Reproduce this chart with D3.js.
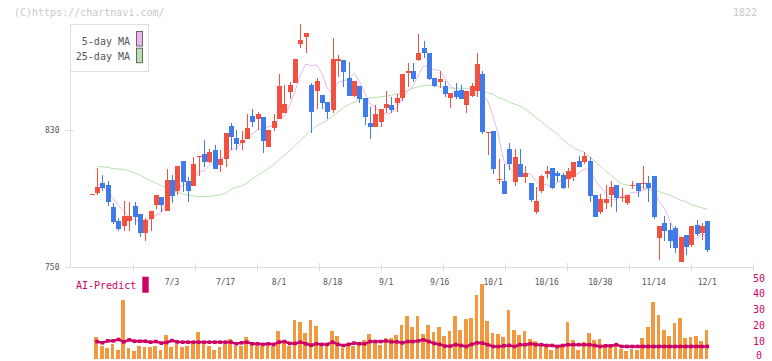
<!DOCTYPE html>
<html><head><meta charset="utf-8">
<script src="https://cdn.jsdelivr.net/npm/d3@7"></script>
<style>body{margin:0;background:#fff}svg{display:block}text{font-family:"DejaVu Sans Mono",monospace}</style>
</head><body><svg id="c" width="772" height="361"></svg>
<script>
const dates = ["6/12","6/13","6/16","6/17","6/18","6/19","6/20","6/23","6/24","6/25","6/26","6/27","6/30","7/1","7/2","7/3","7/4","7/7","7/8","7/9","7/10","7/11","7/14","7/15","7/16","7/17","7/18","7/22","7/23","7/24","7/25","7/28","7/29","7/30","7/31","8/1","8/4","8/5","8/6","8/7","8/8","8/12","8/13","8/14","8/15","8/18","8/19","8/20","8/21","8/22","8/25","8/26","8/27","8/28","8/29","9/1","9/2","9/3","9/4","9/5","9/8","9/9","9/10","9/11","9/12","9/16","9/17","9/18","9/19","9/22","9/24","9/25","9/26","9/29","9/30","10/1","10/2","10/3","10/6","10/7","10/8","10/9","10/10","10/14","10/15","10/16","10/17","10/20","10/21","10/22","10/23","10/24","10/27","10/28","10/29","10/30","10/31","11/4","11/5","11/6","11/7","11/10","11/11","11/12","11/13","11/14","11/17","11/18","11/19","11/20","11/21","11/25","11/26","11/27","11/28","12/1"];

const openPrices = [792.6,793.4,798.9,797.9,785.0,776.9,774.1,777.0,785.6,781.0,
 770.0,778.0,786.2,790.9,782.7,800.8,794.4,811.9,800.2,797.5,
 814.2,816.0,811.5,818.3,809.6,812.9,832.3,825.3,822.6,824.9,
 838.2,836.3,837.4,819.9,831.0,836.3,840.1,852.4,857.3,880.2,
 884.5,856.3,853.0,850.4,846.4,841.7,870.5,870.9,860.2,849.9,
 855.9,848.5,834.1,831.9,834.9,842.9,844.6,846.0,848.9,863.5,
 864.5,870.9,877.9,875.0,860.2,858.2,855.9,848.7,852.8,853.4,
 844.6,849.9,853.0,862.7,828.9,829.4,801.5,800.2,818.7,799.8,
 810.2,802.7,799.1,782.1,794.6,804.3,807.8,804.7,803.7,801.6,
 802.7,811.9,811.3,811.9,792.0,782.1,787.6,792.0,797.9,790.3,
 787.6,797.8,799.1,799.0,799.1,803.1,767.1,775.7,771.6,772.8,
 753.1,768.7,762.8,774.5,769.7,776.9];

const highPrices = [792.7,807.8,803.7,800.0,787.6,778.4,788.4,788.1,788.0,781.0,
 778.6,782.7,792.0,790.9,807.2,803.7,809.0,811.9,802.7,814.4,
 814.8,824.2,818.7,821.2,818.3,828.4,833.9,830.0,829.4,839.2,
 842.3,840.3,837.4,830.0,839.2,862.5,856.3,857.9,871.5,891.9,
 886.7,857.6,860.2,850.4,846.4,883.9,873.8,870.9,869.9,858.6,
 855.9,848.5,843.3,844.6,842.3,853.0,849.1,851.0,862.7,869.0,
 869.0,886.1,882.2,875.0,860.2,864.5,858.6,851.4,857.3,856.3,
 852.8,857.3,875.0,864.5,829.0,829.4,812.9,810.2,822.6,818.9,
 818.9,809.0,799.1,796.9,803.7,809.0,807.8,806.1,805.1,807.8,
 811.3,814.8,817.2,814.4,792.0,792.6,797.9,800.2,797.9,796.1,
 792.0,800.2,799.1,809.0,803.1,803.1,773.9,779.8,775.7,773.9,
 767.5,768.7,773.9,777.4,775.7,776.9];

const lowPrices = [792.6,792.0,794.6,785.6,775.1,771.2,771.2,771.2,774.4,767.3,
 765.4,771.2,783.7,782.3,782.7,787.6,792.0,794.0,788.1,797.5,
 803.1,808.6,810.9,807.4,805.7,808.6,818.3,818.3,818.3,824.9,
 831.9,830.0,816.7,819.9,829.6,836.3,840.1,848.1,857.3,877.7,
 875.1,828.1,842.1,842.1,836.3,840.1,861.1,855.3,850.0,849.1,
 846.0,832.9,824.9,831.9,831.9,840.1,840.1,840.7,846.9,855.3,
 858.2,870.5,871.9,859.2,855.3,854.4,849.1,843.0,848.1,848.1,
 840.1,849.1,849.1,827.8,815.4,804.3,798.5,792.5,806.6,797.5,
 802.7,798.9,788.0,781.0,793.4,801.4,795.6,799.6,795.6,796.3,
 800.2,808.6,810.2,788.0,779.4,781.0,784.0,785.2,782.1,788.0,
 786.2,795.7,790.7,795.7,788.0,778.0,754.1,765.4,761.1,758.4,
 753.1,757.2,761.9,768.1,765.8,758.8];

const closePrices = [792.7,796.5,796.3,788.1,776.5,772.4,779.6,779.6,779.4,770.0,
 777.4,782.7,792.0,786.2,800.8,791.5,809.0,799.8,794.6,810.2,
 814.8,811.5,817.0,807.4,812.9,828.4,826.1,821.8,824.2,831.4,
 834.9,839.4,823.8,830.0,835.3,855.7,845.2,856.3,871.5,882.6,
 886.7,840.7,858.6,846.0,840.7,871.5,871.5,864.1,850.0,858.6,
 848.1,837.8,831.9,839.4,842.3,845.2,841.7,848.5,862.7,864.5,
 860.0,874.8,874.8,859.8,855.9,859.8,851.0,851.4,849.5,848.1,
 852.8,855.7,868.5,829.0,829.0,807.2,801.6,792.5,810.0,814.4,
 802.7,804.9,789.1,788.5,803.1,806.1,796.3,803.1,796.3,806.1,
 811.3,808.6,814.8,791.6,779.4,789.7,789.7,796.7,790.5,791.1,
 792.0,797.9,794.6,799.1,796.3,779.4,773.9,771.2,765.4,761.1,
 767.5,761.9,773.9,769.3,773.9,759.9];

const ma5 = [null,799.0,797.0,794.0,790.0,786.0,782.6,779.2,777.5,776.2,
 777.2,777.8,780.3,781.7,787.8,790.6,795.9,797.5,799.1,801.0,
 805.7,806.2,809.6,812.2,812.7,815.4,818.4,819.3,822.7,826.4,
 827.7,830.3,830.7,831.9,832.7,836.8,838.0,844.5,852.8,862.3,
 868.5,867.6,868.0,862.9,854.5,851.5,857.7,858.8,859.6,863.1,
 858.5,851.7,845.3,843.2,839.9,839.3,840.1,843.4,848.1,852.5,
 855.5,862.1,867.4,866.8,865.1,865.0,860.3,855.6,853.5,852.0,
 850.6,851.5,854.9,850.8,847.0,837.9,827.1,811.9,808.1,805.1,
 804.2,804.9,804.2,799.9,797.7,798.3,796.6,799.4,801.0,801.6,
 802.6,805.1,807.4,806.5,801.1,796.8,793.0,789.4,789.2,791.5,
 792.0,793.6,793.2,794.9,796.0,793.5,788.7,784.0,777.2,770.2,
 767.8,765.4,766.0,766.7,769.3,767.8];

const ma25 = [null,808.6,808.5,808.2,807.4,807.2,807.0,806.0,804.8,803.7,
 801.9,800.4,799.0,797.5,796.3,795.0,793.8,792.6,792.0,791.4,
 791.1,791.1,791.3,791.6,792.2,793.0,795.3,796.6,797.3,799.0,
 801.5,803.5,805.5,807.5,809.8,812.5,815.4,818.0,821.0,824.0,
 827.0,830.0,832.3,834.0,835.8,838.0,840.5,843.0,844.8,846.3,
 847.5,848.2,848.7,849.0,849.3,849.8,850.4,851.0,851.6,853.0,
 854.4,855.2,855.9,856.2,855.8,855.3,854.8,854.5,854.4,854.4,
 854.2,853.9,853.4,852.8,851.6,851.0,848.7,848.0,846.2,845.2,
 844.0,842.0,839.8,837.2,834.8,832.4,830.0,827.6,824.5,822.0,
 819.5,818.3,817.0,814.4,811.5,809.0,806.0,803.5,800.8,798.6,
 797.9,797.6,797.3,796.3,795.5,795.0,794.0,793.0,792.0,790.5,
 789.0,788.1,786.5,785.5,784.5,783.7];

const volume = [null,14.0,8.5,7.0,9.6,5.7,37.2,7.0,5.3,8.3,
 7.6,7.6,8.3,5.7,15.3,7.6,11.3,7.6,8.3,10.2,
 17.2,10.2,8.3,5.7,7.6,10.2,12.7,8.3,8.3,14.0,
 10.2,8.9,8.3,8.9,8.3,17.8,10.4,8.3,24.8,23.6,
 16.6,24.8,21.0,8.9,8.3,17.8,14.6,7.0,8.3,8.3,
 10.8,12.1,15.9,11.5,8.9,13.4,13.4,15.3,21.7,26.8,
 20.4,26.8,15.9,21.7,17.2,20.4,14.6,17.8,26.8,18.5,
 25.5,26.1,40.1,47.1,24.2,16.6,15.9,14.0,30.6,18.5,
 15.3,17.8,12.7,11.5,9.6,8.3,5.7,8.3,8.3,23.6,
 12.1,5.7,10.8,16.6,12.1,12.7,8.9,8.9,8.9,6.4,
 5.1,6.4,5.7,13.4,20.4,35.7,27.4,18.5,14.6,22.9,
 26.1,13.4,14.0,14.6,11.5,18.5];

const aiPredict = [null,11.0,10.2,11.4,11.4,12.3,10.8,12.1,11.2,11.2,
 11.2,10.6,11.0,10.0,10.4,11.6,10.8,10.6,10.6,10.6,
 10.6,10.6,10.6,10.6,10.6,10.6,10.6,9.6,10.2,10.6,
 9.6,9.6,9.2,9.6,9.2,10.6,11.0,9.8,9.8,10.6,
 9.6,8.7,9.6,9.2,9.2,10.6,9.2,8.5,9.2,10.0,
 9.6,9.6,11.0,11.0,11.0,11.4,10.8,10.8,10.2,11.0,
 11.0,11.4,12.1,11.0,9.8,9.2,8.1,8.1,9.0,8.5,
 7.9,9.2,10.2,10.0,9.0,7.9,7.9,8.3,8.6,7.9,
 9.0,9.0,9.6,9.0,9.0,8.5,8.5,7.9,8.5,9.0,
 9.0,9.0,9.0,9.0,8.5,7.9,8.3,8.3,9.0,7.9,
 7.9,7.9,7.9,7.9,7.9,7.9,7.9,7.9,7.9,7.9,
 7.9,7.9,7.9,7.9,7.9,7.9];

const priceTicks = [750, 830];
const volumeTicks = [0, 10, 20, 30, 40, 50];
const dateLabels = ["7/3","7/17","8/1","8/18","9/1","9/16","10/1","10/16","10/30","11/14","12/1"];
const legendItems = [{name:"5-day MA", color:"#ecb6ec"}, {name:"25-day MA", color:"#b9e0b0"}];

const UP = "#f2513f", DOWN = "#3f7be9";
const svg = d3.select("#c");
svg.append("rect").attr("width",772).attr("height",361).attr("fill","#fff");

const x = d3.scalePoint().domain(dates).range([91.7, 707.3]);
const y = d3.scaleLinear().domain([750, 830]).range([267, 130]);
const yv = d3.scaleLinear().domain([0, 50]).range([359, 279.6]);
const frame = d3.scaleLinear().domain([0, 11]).range([70.5, 752.5]);

const rows = dates.map((d,i)=>({d, i, o:openPrices[i], h:highPrices[i], l:lowPrices[i], c:closePrices[i],
  v:volume[i], ai:aiPredict[i], m5:ma5[i], m25:ma25[i]}));

// header texts
svg.append("text").attr("x",14).attr("y",12.5).attr("dominant-baseline","middle")
  .attr("font-size",10).attr("fill","#c8c8c8").text("(C)https://chartnavi.com/");
svg.append("text").attr("x",757).attr("y",12.5).attr("dominant-baseline","middle").attr("text-anchor","end")
  .attr("font-size",10).attr("fill","#c8c8c8").text("1822");

const grid = svg.append("g").attr("stroke","#dedede").attr("stroke-width",1).attr("shape-rendering","crispEdges");
grid.append("line").attr("x1",70.5).attr("x2",70.5).attr("y1",24).attr("y2",267.5);
grid.append("line").attr("x1",70.5).attr("x2",752.5).attr("y1",267.5).attr("y2",267.5);
grid.selectAll("line.t").data(d3.range(1,12)).join("line").attr("class","t")
  .attr("x1",d=>Math.round(frame(d))+0.5).attr("x2",d=>Math.round(frame(d))+0.5).attr("y1",263).attr("y2",271);
grid.selectAll("line.yt").data(priceTicks).join("line").attr("class","yt")
  .attr("x1",65).attr("x2",74).attr("y1",d=>Math.round(y(d))+0.5).attr("y2",d=>Math.round(y(d))+0.5);

svg.append("g").selectAll("text").data(priceTicks).join("text")
  .attr("x",59.5).attr("y",d=>y(d)).attr("text-anchor","end").attr("dominant-baseline","middle")
  .attr("font-size",8).attr("fill","#555").text(d=>d);

svg.append("g").selectAll("text").data(dateLabels).join("text")
  .attr("x",d=>x(d)).attr("y",282.5).attr("text-anchor","middle").attr("dominant-baseline","middle")
  .attr("font-size",8).attr("fill","#555").text(d=>d);

// moving averages
const lineGen = key => d3.line().defined(r=>r[key]!=null).x(r=>x(r.d)).y(r=>y(r[key]));
svg.append("path").datum(rows).attr("fill","none").attr("stroke","#b9e0b0").attr("stroke-width",1).attr("d",lineGen("m25"));
svg.append("path").datum(rows).attr("fill","none").attr("stroke","#ecb6ec").attr("stroke-width",1).attr("d",lineGen("m5"));

// candles
const cg = svg.append("g").attr("shape-rendering","crispEdges");
const col = r => r.c >= r.o ? UP : DOWN;
cg.selectAll("line").data(rows).join("line")
  .attr("x1",r=>Math.round(x(r.d))+0.5).attr("x2",r=>Math.round(x(r.d))+0.5)
  .attr("y1",r=>y(r.h)).attr("y2",r=>y(r.l)).attr("stroke",col).attr("stroke-width",1);
cg.selectAll("rect").data(rows).join("rect")
  .attr("x",r=>Math.round(x(r.d))-2).attr("width",5)
  .attr("y",r=>y(Math.max(r.o,r.c)))
  .attr("height",r=>Math.max(1.2, Math.abs(y(r.o)-y(r.c))))
  .attr("fill",col);

// legend
const lg = svg.append("g");
lg.append("rect").attr("x",70.5).attr("y",24.5).attr("width",78).attr("height",47).attr("fill","#fff").attr("stroke","#dedede");
lg.selectAll("text").data(legendItems).join("text").attr("x",130).attr("y",(d,i)=>41.5+i*15.7)
  .attr("text-anchor","end").attr("dominant-baseline","middle").attr("font-size",10).attr("fill","#555").text(d=>d.name);
lg.selectAll("rect.sw").data(legendItems).join("rect").attr("class","sw")
  .attr("x",136.5).attr("y",(d,i)=>31.5+i*16.7).attr("width",6).attr("height",14.5)
  .attr("fill",d=>d.color).attr("stroke","#666");

// volume panel
svg.append("g").attr("shape-rendering","crispEdges").selectAll("rect").data(rows.filter(r=>r.v!=null)).join("rect")
  .attr("x",r=>x(r.d)-2.6).attr("width",3.7).attr("y",r=>yv(r.v)).attr("height",r=>yv(0)-yv(r.v)).attr("fill","#f2983f");

const aiRows = rows.filter(r=>r.ai!=null);
svg.append("path").datum(aiRows).attr("fill","none").attr("stroke","#cc0066").attr("stroke-width",2.4)
  .attr("d",d3.line().x(r=>x(r.d)).y(r=>yv(r.ai)));
svg.append("g").selectAll("rect").data(aiRows).join("rect")
  .attr("x",r=>x(r.d)-1.8).attr("y",r=>yv(r.ai)-1.8).attr("width",3.6).attr("height",3.6).attr("fill","#cc0066");

svg.append("g").selectAll("text").data(volumeTicks).join("text")
  .attr("x",759).attr("y",d=>Math.min(yv(d)-1, 355.5)).attr("text-anchor","middle").attr("dominant-baseline","middle")
  .attr("font-size",10).attr("fill","#cc0066").text(d=>d);

svg.append("text").attr("x",76).attr("y",286).attr("dominant-baseline","middle")
  .attr("font-size",10).attr("fill","#cc0066").text("AI-Predict");
svg.append("rect").attr("x",142.3).attr("y",276.7).attr("width",6.4).attr("height",16).attr("fill","#cc0066");
</script></body></html>
